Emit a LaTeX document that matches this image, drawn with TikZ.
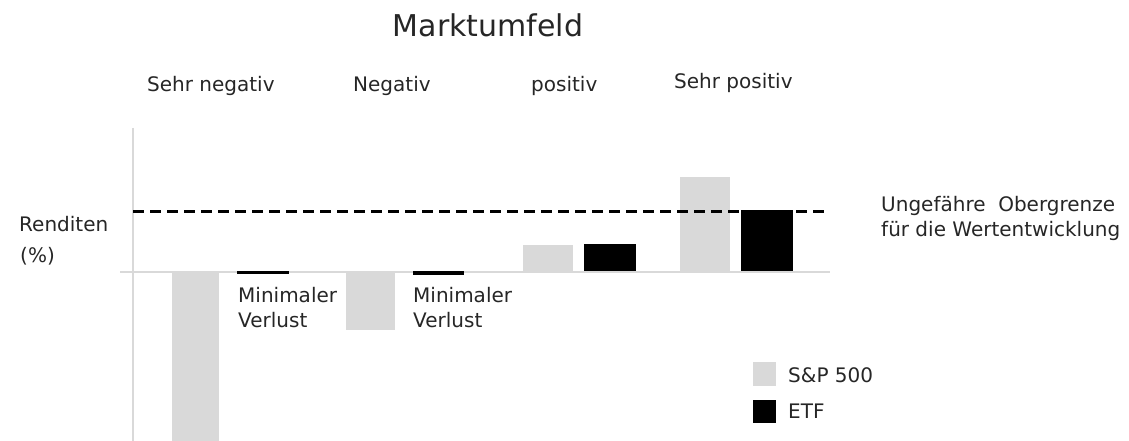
\documentclass[tikz,border=0pt]{standalone}
\usepackage{fontspec}
\setmainfont{DejaVu Sans}
\usepackage{tikz}
\usetikzlibrary{calc}
\definecolor{barGray}{HTML}{D9D9D9}
\definecolor{axisGray}{HTML}{D9D9D9}
\definecolor{txtGray}{HTML}{262626}

\begin{document}
\begin{tikzpicture}[x=1pt,y=-1pt,
    lbl/.style={inner sep=0pt,text=txtGray,font=\fontsize{20}{25}\selectfont},
    spx/.style={fill=barGray},
    etf/.style={fill=black}]
    \useasboundingbox (0,0) rectangle (1129,441);
    \coordinate (O) at (133,272);
    \coordinate (T) at (133,128);
    \coordinate (B) at (133,441);
    \coordinate (L) at (120,272);
    \coordinate (R) at (830,272);
    % axes
    \draw[color=axisGray,line width=2pt] (T) -- (B);
    \draw[color=axisGray,line width=2pt] (L) -- (R);
    % bars
    \fill[spx] (172,272) rectangle (219,441);
    \fill[etf] (237,271) rectangle (289,274);
    \fill[spx] (346,272) rectangle (395,330);
    \fill[etf] (413,271) rectangle (464,275);
    \fill[spx] (523,245) rectangle (573,271);
    \fill[etf] (584,244) rectangle (636,271);
    \fill[spx] (680,177) rectangle (730,271);
    \fill[etf] (741,210) rectangle (793,271);
    % upper limit
    \coordinate (D1) at (133,211);
    \coordinate (D2) at (830,211);
    \draw[line width=3pt,dash pattern=on 11pt off 6pt] (D1) -- (D2);
    % texts
    \node[lbl,anchor=base,font=\fontsize{30}{36}\selectfont] (title) at (488,37) {Marktumfeld};
    \node[lbl,anchor=base west] (c1) at (147,92) {Sehr negativ};
    \node[lbl,anchor=base west] (c2) at (353,92) {Negativ};
    \node[lbl,anchor=base west] (c3) at (531,92) {positiv};
    \node[lbl,anchor=base west] (c4) at (674,89) {Sehr positiv};
    \node[lbl,anchor=base west] (ren) at (19,231) {Renditen};
    \node[lbl,anchor=base west] (pct) at (20,262) {(\%)};
    \node[lbl,anchor=base west,align=left] (v1) at (238,327) {Minimaler\\Verlust};
    \node[lbl,anchor=base west,align=left] (v2) at (413,327) {Minimaler\\Verlust};
    \node[lbl,anchor=base west,align=left] (cap) at (881,236) {Ungefähre\ \ Obergrenze\\für die Wertentwicklung};
    % legend
    \fill[spx] (753,362) rectangle (776,386);
    \fill[etf] (753,400) rectangle (776,423);
    \node[lbl,anchor=base west] (k1) at (788,382) {S\&P 500};
    \node[lbl,anchor=base west] (k2) at (788,418) {ETF};
\end{tikzpicture}
\end{document}
